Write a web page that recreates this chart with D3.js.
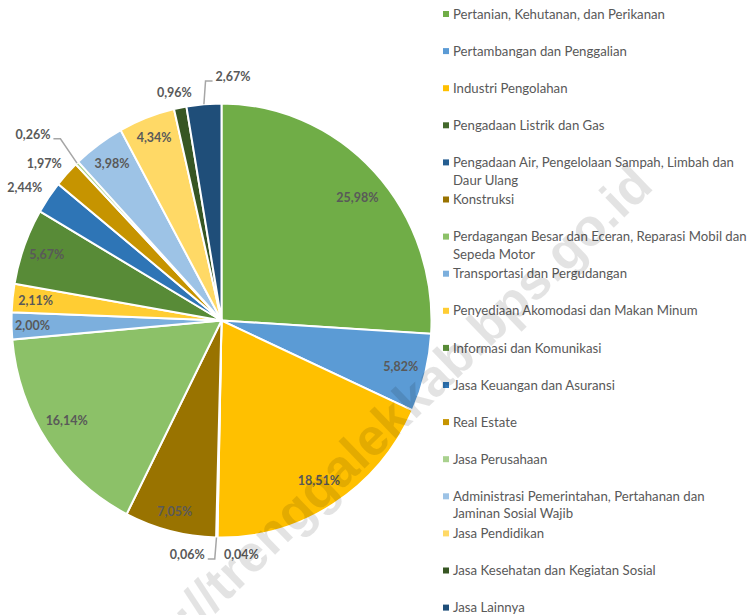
<!DOCTYPE html>
<html>
<head>
<meta charset="utf-8">
<script src="https://cdn.jsdelivr.net/npm/d3@7/dist/d3.min.js"></script>
<style>
  html, body { margin: 0; padding: 0; background: #fff; }
  svg { display: block; }
</style>
</head>
<body>
<svg width="754" height="615"></svg>
<script>
// sectors (legend order = slice order, clockwise from 12 o'clock)
var categories = ["Pertanian, Kehutanan, dan Perikanan", "Pertambangan dan Penggalian",
  "Industri Pengolahan", "Pengadaan Listrik dan Gas",
  "Pengadaan Air, Pengelolaan Sampah, Limbah dan Daur Ulang", "Konstruksi",
  "Perdagangan Besar dan Eceran, Reparasi Mobil dan Sepeda Motor", "Transportasi dan Pergudangan",
  "Penyediaan Akomodasi dan Makan Minum", "Informasi dan Komunikasi", "Jasa Keuangan dan Asuransi",
  "Real Estate", "Jasa Perusahaan", "Administrasi Pemerintahan, Pertahanan dan Jaminan Sosial Wajib",
  "Jasa Pendidikan", "Jasa Kesehatan dan Kegiatan Sosial", "Jasa Lainnya"];
var shares = [25.98, 5.82, 18.51, 0.04, 0.06, 7.05, 16.14, 2.00, 2.11, 5.67,
              2.44, 1.97, 0.26, 3.98, 4.34, 0.96, 2.67];
var colors = ["#70AD47", "#5B9BD5", "#FFC000", "#43682B", "#255E91", "#997300",
              "#8CC168", "#7CAFDD", "#FFCD33", "#588B37", "#2E75B6", "#C69400",
              "#A9D18E", "#9DC3E6", "#FFD966", "#375623", "#1F4E79"];

// label placement: radius factor, and for the small ones an angle nudge (deg) + leader line
var labelFactor = [0.86, 0.88, 0.87, 1.085, 1.093, 0.91, 0.87, 0.9, 0.89, 0.885,
                   1.12, 1.11, 1.24, 0.89, 0.9, 1.076, 1.123];
var labelNudge = [2, 0, 0, -6.2, 7.2, 0, 2, 0, 0, 0, -1.3, -2, -2.9, 0, 0, -0.7, 7.6];
var hasLeader = [false, false, false, false, true, false, false, false, false, false,
                 false, false, true, false, false, false, true];

var svg = d3.select("svg"),
    cx = 221.5, cy = 320.5, rx = 210, ry = 217;

var fmt = function(v){ return d3.format(".2f")(v).replace(".", ",") + "%"; };

var pie = d3.pie().sort(null).value(function(d){ return d; });
var arcs = pie(shares);
var arc = d3.arc().innerRadius(0).outerRadius(rx);

// pie is slightly taller than wide in the original, so squash the circle
var gPie = svg.append("g")
    .attr("transform", "translate(" + cx + "," + cy + ") scale(1," + (ry / rx) + ")");

gPie.selectAll("path")
  .data(arcs)
  .enter().append("path")
    .attr("d", arc)
    .attr("fill", function(d, i){ return colors[i]; })
    .attr("stroke", "#fff")
    .attr("stroke-width", 2)
    .attr("vector-effect", "non-scaling-stroke");

function polar(angle, f) {
  return [cx + rx * f * Math.sin(angle), cy - ry * f * Math.cos(angle)];
}

var gLab = svg.append("g");
var labels = gLab.selectAll("text")
  .data(arcs)
  .enter().append("text")
    .attr("x", function(d, i){
      var a = (d.startAngle + d.endAngle) / 2 + labelNudge[i] * Math.PI / 180;
      return polar(a, labelFactor[i])[0];
    })
    .attr("y", function(d, i){
      var a = (d.startAngle + d.endAngle) / 2 + labelNudge[i] * Math.PI / 180;
      return polar(a, labelFactor[i])[1];
    })
    .attr("dy", "0.35em")
    .attr("text-anchor", "middle")
    .attr("font-family", "Lato, 'Open Sans', sans-serif")
    .attr("font-weight", "bold")
    .attr("font-size", "12.5px")
    .attr("fill", "#595959")
    .text(function(d){ return fmt(d.data); });

// leader lines for the crowded slices
labels.each(function(d, i){
  if (!hasLeader[i]) return;
  var box = this.getBBox(),
      mid = (d.startAngle + d.endAngle) / 2,
      p0 = polar(mid, 1.0),
      ly = box.y + box.height / 2 + 4,
      leftSide = box.x + box.width / 2 < p0[0],
      edge = leftSide ? box.x + box.width : box.x,
      sgn = leftSide ? 1 : -1;
  var pts = [p0, [edge + sgn * 10, ly], [edge + sgn * 3, ly]];
  svg.insert("path", "g + g")
    .attr("d", d3.line()(pts))
    .attr("fill", "none")
    .attr("stroke", "#A6A6A6")
    .attr("stroke-width", 1.5);
});

// legend
var rowY = d3.scaleLinear().domain([0, categories.length - 1]).range([14, 607.6]);
var legend = svg.append("g")
  .selectAll("g")
  .data(categories)
  .enter().append("g")
    .attr("transform", function(d, i){ return "translate(0," + rowY(i) + ")"; });

legend.append("rect")
    .attr("x", 443).attr("y", -3)
    .attr("width", 6).attr("height", 6)
    .attr("fill", function(d, i){ return colors[i]; });

legend.append("text")
    .attr("x", 453)
    .attr("font-family", "Lato, 'Open Sans', sans-serif")
    .attr("font-size", "13.2px")
    .attr("fill", "#595959")
    .each(function(name){
      // wrap long names into the space left of the window edge
      var t = d3.select(this), words = name.split(" "), line = [],
          ts = t.append("tspan").attr("x", 453).attr("dy", "0.35em");
      words.forEach(function(w){
        line.push(w);
        ts.text(line.join(" "));
        if (ts.node().getComputedTextLength() > 300 && line.length > 1) {
          line.pop();
          ts.text(line.join(" "));
          line = [w];
          ts = t.append("tspan").attr("x", 453).attr("dy", "17.5px").text(w);
        }
      });
    });

// watermark
svg.append("text")
    .attr("transform", "translate(655,188) rotate(-44)")
    .attr("text-anchor", "end")
    .attr("font-family", "'Liberation Sans', Arial, sans-serif")
    .attr("font-weight", "bold")
    .attr("font-size", "52px")
    .attr("fill", "#000")
    .attr("fill-opacity", 0.11)
    .text("https://trenggalekkab.bps.go.id");
</script>
</body>
</html>
